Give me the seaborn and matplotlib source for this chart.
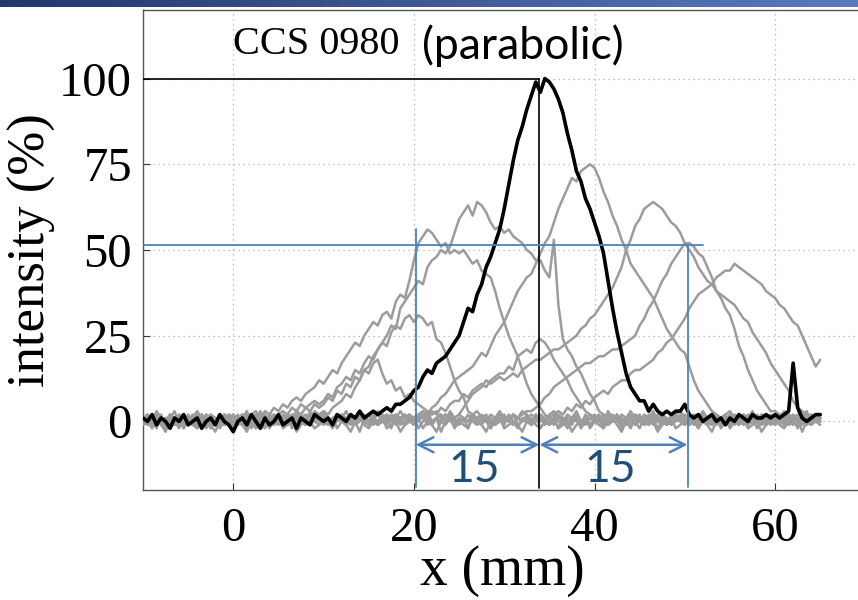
import numpy as np
import pandas as pd
import matplotlib
matplotlib.use("Agg")
import matplotlib.pyplot as plt
from matplotlib.colors import LinearSegmentedColormap
import seaborn as sns

# ---------------- data ----------------
x_mm = np.linspace(-10, 65, 151)   # sampling grid (0.5 mm)

black = [
 1, 0, 2, -1, 1, 0, -2, 1, 0, 2,
 -1, 0, 1, -2, 0, 1, -1, 2, 0, -1,
 -3, 0, 1, -1, 2, 0, -2, 1, -1, 0,
 2, -1, 0, 1, -2, 1, 0, -1, 2, 1,
 0, 1, -1, 2, 1, 0, 2, 1, 3, 1,
 2, 3, 2, 3, 4, 3, 5, 5, 6, 7,
 9, 10, 13, 15, 14, 17, 18, 19, 21, 23,
 25, 29, 33, 32, 37, 40, 45, 48, 52, 56,
 62, 69, 76, 82, 86, 91, 95, 99, 96, 100,
 99, 97, 94, 90, 84, 79, 73, 70, 65, 62,
 58, 54, 49, 41, 33, 26, 20, 14, 10, 8,
 6, 6, 3, 5, 3, 2, 3, 2, 3, 3,
 5, 2, 1, 2, 0, 1, 2, 0, 1, -1,
 1, 0, 2, 1, 0, 2, 1, 1, 2, 1,
 2, 1, 2, 3, 17, 4, 1, 0, 1, 2,
 2]

base1 = [
 0, 2, -1, 1, 0, -2, 1, 3, -1, 0,
 1, -1, 2, 0, -2, 1, 0, 2, -1, 1,
 0, -1, 1, 2, -2, 0, 3, -1, 1, 0,
 -1, 2, 1, -2, 0, 1, -1, 3, 0, -1,
 2, 0, -2, 1, 1, -1, 2, 0, -3, 1,
 0, 2, -1, 0, 1, -2, 2, 1, -1, 0,
 1, -2, 0, 2, -1, 1, -3, 0, 2, -1,
 0, 1, -2, 2, 0, -1, 1, -2, 0, 1,
 -1, 2, 0, -2, 1, 0, -1, 2, -2, 0,
 1, -1, 2, 0, -2, 1, 0, -1, 2, -1,
 0, 1, -2, 1, 0, 2, -1, 0, -2, 1,
 2, -1, 0, 1, -2, 0, 1, -1, 2, 0,
 -1, 1, 0, -2, 2, 0, -1, 1, -2, 0,
 1, -1, 2, 0, -1, 1, -2, 0, 1, -1,
 0, 2, -1, 0, 1, -2, 1, 0, -1, 1,
 0]

base2 = [
 1, 2, 0, 3, 1, 0, 2, 1, -1, 2,
 0, 1, 3, 1, -1, 2, 1, 0, 2, 1,
 2, 0, 1, 3, 0, 1, 2, -1, 1, 2,
 1, 0, 2, 1, 3, 0, 1, 2, 0, 1,
 3, 1, 0, 2, 1, 3, 0, 1, 2, 1,
 2, 0, 3, 1, 2, 0, 1, 3, 1, 2,
 0, 2, 1, 3, 0, 1, 2, 0, 3, 1,
 2, 1, 0, 2, 3, 1, 0, 2, 1, 3,
 1, 0, 2, 1, 3, 2, 0, 1, 2, 0,
 2, 3, 1, 0, 2, 1, 3, 0, 1, 2,
 1, 2, 0, 3, 1, 2, 0, 1, 3, 1,
 0, 2, 1, 3, 0, 2, 1, 0, 2, 3,
 1, 0, 2, 1, 3, 1, 0, 2, 1, 2,
 3, 1, 0, 2, 1, 3, 0, 1, 2, 0,
 2, 1, 3, 0, 1, 2, 1, 3, 0, 2,
 1]

base3 = [
 -1, 0, -2, 1, -1, -3, 0, -1, 1, -2,
 0, -1, -2, 0, 1, -1, -3, 0, -1, 1,
 -2, 0, -1, -3, 0, 1, -1, -2, 0, -1,
 1, -2, -1, 0, -3, -1, 1, 0, -2, -1,
 0, -1, 1, -2, 0, -1, -3, 0, 1, -1,
 -2, 0, -1, 1, -2, -1, 0, -3, -1, 0,
 -1, 1, -2, 0, -1, -3, 0, -1, 1, -2,
 0, -1, -2, 1, 0, -1, -3, 0, -1, 1,
 -2, -1, 0, -1, -3, 0, 1, -1, -2, 0,
 -1, 1, -2, -1, 0, -3, -1, 0, 1, -2,
 0, -1, -2, 0, 1, -1, -3, 0, -1, 0,
 -2, 1, -1, 0, -3, -1, 0, 1, -2, -1,
 0, -1, 1, -2, 0, -1, -3, 0, -1, 1,
 -2, 0, -1, 1, -2, -1, 0, -3, -1, 0,
 1, -1, -2, 0, -1, 1, -3, 0, -1, 0,
 -1]

pos_a = [
 0, 1, -1, 2, 0, -1, 1, 0, -2, 1,
 0, 2, -1, 0, 1, -1, 0, 2, -1, 0,
 1, -1, 0, 2, 1, -2, 0, 1, -1, 2,
 0, 1, 2, 1, 3, 2, 4, 3, 5, 4,
 5, 7, 6, 9, 8, 11, 10, 13, 12, 15,
 14, 17, 18, 14, 11, 12, 9, 10, 7, 8,
 6, 5, 4, 3, 2, 3, 1, 2, 0, 1,
 -1, 1, 0, 2, -1, 1, 0, -2, 1, 0,
 2, 0, -1, 1, 0, 2, -1, 0, 1, -1,
 0, 1, -2, 1, 0, -1, 2, 0, 1, -1,
 1, 0, 2, -1, 0, 1, -2, 0, 1, 2,
 0, -1, 1, 0, 2, 1, -1, 0, 1, 0,
 -1, 1, 0, 2, 0, -1, 1, 0, -1, 1,
 0, 2, 1, -1, 0, 1, 0, 2, -1, 0,
 1, 0, -1, 1, 2, 0, 1, -1, 0, 1,
 0]

pos_b = [
 1, -1, 0, 2, 0, 1, -2, 0, 1, -1,
 2, 0, -1, 1, 0, -2, 1, 0, 2, -1,
 0, 1, -1, 0, 2, 1, 0, -1, 2, 1,
 2, 3, 2, 4, 3, 5, 4, 5, 6, 5,
 6, 8, 7, 10, 11, 13, 12, 15, 14, 17,
 19, 18, 21, 23, 22, 26, 28, 27, 30, 31,
 29, 31, 30, 28, 29, 24, 23, 20, 16, 12,
 9, 7, 3, 2, 1, 2, 0, 1, -1, 0,
 1, 0, 2, -1, 0, 1, -1, 2, 0, 1,
 -1, 0, 2, 1, -1, 0, 1, -2, 0, 1,
 2, 0, -1, 1, 0, 2, -1, 0, 1, -1,
 0, 1, -1, 2, 0, -1, 1, 0, 2, 0,
 1, -1, 0, 2, 1, 0, -1, 1, 0, 2,
 -1, 0, 1, 0, 2, -1, 1, 0, -1, 1,
 0, 2, 0, -1, 1, 0, 2, -1, 0, 1,
 0]

pos_1 = [
 -1, 1, 0, -2, 1, 0, 2, -1, 0, 1,
 0, -1, 2, 0, 1, -2, 0, 1, -1, 2,
 1, 0, 2, 1, 2, 3, 1, 3, 2, 4,
 3, 5, 4, 6, 7, 6, 8, 9, 10, 12,
 11, 13, 15, 14, 17, 19, 21, 23, 22, 25,
 27, 29, 28, 31, 32, 30, 35, 37, 36, 41,
 47, 52, 54, 56, 55, 53, 51, 52, 49, 50,
 49, 50, 48, 46, 47, 44, 43, 42, 38, 33,
 29, 25, 22, 19, 15, 11, 8, 6, 4, 2,
 1, 2, 0, -1, 1, 0, 2, 0, -1, 1,
 0, 1, -1, 2, 0, 1, -1, 0, 2, -1,
 1, 0, 2, -1, 1, 0, -1, 2, 0, 1,
 0, -1, 1, 0, 2, -1, 0, 1, -1, 0,
 2, 0, -1, 1, 0, 2, 1, -1, 0, 1,
 -1, 0, 1, 2, 0, -1, 1, 0, 2, 0,
 1]

pos_2 = [
 0, 2, -1, 1, 0, -1, 2, 0, 1, -2,
 1, 0, -1, 2, 0, 1, -1, 0, 2, 1,
 -1, 0, 1, -2, 0, 2, 1, -1, 0, 1,
 0, 1, -1, 2, 0, 1, 2, 1, 3, 2,
 3, 2, 4, 5, 6, 8, 7, 10, 12, 15,
 16, 19, 21, 23, 25, 28, 27, 33, 35, 37,
 39, 41, 40, 45, 47, 48, 50, 49, 51, 55,
 59, 61, 63, 60, 64, 63, 61, 58, 56, 57,
 55, 56, 54, 53, 52, 50, 49, 47, 47, 44,
 42, 53, 34, 24, 21, 19, 16, 14, 11, 8,
 6, 3, 2, 1, 2, 0, 1, -1, 0, 2,
 1, 0, -1, 1, 0, 2, 0, -1, 1, 0,
 2, 1, 0, -1, 1, 0, 2, 0, 1, -1,
 0, 1, 2, 0, -1, 1, 0, 2, 1, 0,
 -1, 1, 0, 2, 1, 0, -1, 1, 0, 2,
 0]

pos_3 = [
 1, 0, -1, 2, 0, 1, -2, 0, 1, 0,
 -1, 1, 0, 2, -1, 0, 1, -1, 0, 2,
 0, -1, 1, 0, 2, -1, 0, 1, -2, 0,
 1, 0, 2, -1, 0, 1, -1, 2, 0, 1,
 -1, 0, 1, 2, 0, -1, 1, 0, 2, 1,
 0, 1, -1, 0, 2, 1, 0, 1, 2, 0,
 1, 0, 2, 1, 3, 2, 4, 3, 5, 6,
 6, 8, 7, 9, 10, 11, 10, 12, 13, 14,
 14, 16, 15, 19, 20, 21, 20, 23, 24, 23,
 21, 18, 16, 14, 12, 9, 7, 5, 3, 2,
 1, 0, 2, -1, 1, 0, 2, 1, -1, 0,
 1, -1, 0, 2, 1, 0, -1, 1, 0, 2,
 0, 1, -1, 0, 2, 1, 0, -1, 1, 0,
 2, 0, 1, -1, 0, 1, 2, 0, -1, 1,
 0, 1, 0, 2, -1, 1, 0, 1, 2, 0,
 1]

pos_4 = [
 0, -1, 1, 0, 2, -1, 0, 1, -1, 2,
 0, 1, -2, 0, 1, 2, -1, 0, 1, -1,
 2, 0, -1, 1, 0, -2, 1, 2, 0, -1,
 1, 0, 2, -1, 1, 0, -1, 2, 0, 1,
 0, -1, 1, 0, 2, 1, -1, 0, 1, 2,
 0, 1, 2, 0, -1, 1, 2, 0, 1, 2,
 1, 2, 3, 2, 4, 5, 7, 8, 10, 12,
 13, 14, 15, 16, 18, 20, 19, 22, 25, 27,
 29, 32, 35, 38, 40, 42, 43, 46, 49, 52,
 54, 58, 62, 65, 68, 71, 70, 73, 74, 75,
 74, 71, 67, 64, 60, 57, 53, 50, 46, 44,
 42, 40, 38, 36, 33, 30, 27, 25, 23, 21,
 20, 16, 12, 9, 7, 5, 3, 2, 1, 2,
 0, 1, -1, 2, 0, 1, 0, -1, 1, 2,
 0, 1, 2, -1, 0, 1, 0, 2, 1, 0,
 1]

pos_5 = [
 1, 0, 2, -1, 0, 1, -1, 0, 2, 1,
 -1, 0, 1, 2, -1, 0, 1, -2, 0, 1,
 0, 2, -1, 1, 0, -1, 2, 0, 1, -1,
 2, 0, -1, 1, 0, 2, -1, 0, 1, 0,
 1, -1, 0, 2, 1, -1, 0, 1, 2, 0,
 -1, 1, 0, 2, 1, 0, -1, 1, 2, 0,
 1, 0, 2, 1, -1, 1, 2, 0, 1, 1,
 2, 4, 6, 8, 9, 10, 12, 11, 12, 13,
 12, 13, 14, 13, 15, 16, 17, 18, 18, 19,
 20, 21, 21, 22, 23, 24, 25, 27, 28, 30,
 31, 33, 35, 37, 39, 42, 45, 50, 53, 57,
 59, 62, 63, 64, 63, 62, 60, 58, 57, 55,
 52, 50, 48, 45, 43, 41, 40, 38, 37, 36,
 35, 34, 32, 30, 29, 26, 24, 22, 20, 17,
 15, 13, 11, 9, 6, 4, 3, 2, 1, 2,
 1]

pos_6 = [
 0, 1, -1, 2, 0, -1, 1, 0, 2, -1,
 1, 0, -1, 0, 2, 1, -1, 0, 1, 0,
 -1, 1, 2, 0, -1, 1, 0, 2, -1, 0,
 1, -1, 0, 2, 1, 0, -1, 1, 0, 2,
 0, 1, -1, 0, 2, 0, 1, -1, 0, 1,
 2, 0, -1, 1, 0, 2, 1, -1, 0, 1,
 0, 2, 1, 0, -1, 1, 0, 2, 1, -1,
 1, 0, 2, 0, -1, 1, 2, 0, 1, 0,
 0, 1, 2, 1, 2, 3, 3, 4, 5, 7,
 8, 10, 11, 12, 13, 14, 15, 16, 17, 17,
 18, 19, 19, 20, 21, 21, 22, 23, 24, 25,
 28, 30, 33, 35, 38, 41, 43, 46, 48, 50,
 52, 52, 51, 49, 48, 45, 42, 38, 36, 33,
 31, 27, 22, 19, 15, 12, 9, 7, 5, 3,
 3, 2, 1, 2, 0, 1, 2, 0, 1, 2,
 1]

pos_7 = [
 -1, 0, 1, 2, -1, 0, 1, -1, 0, 2,
 0, -1, 1, 0, 2, -1, 0, 1, 0, -1,
 1, 0, -1, 2, 0, 1, -1, 0, 2, 1,
 0, -1, 1, 0, 2, 0, -1, 1, 0, 2,
 1, 0, -1, 2, 0, 1, 0, -1, 1, 0,
 2, -1, 0, 1, 0, 2, 1, 0, -1, 1,
 0, 1, 2, -1, 0, 1, 0, 2, 1, 0,
 -1, 1, 0, 2, 1, 0, 1, -1, 0, 2,
 1, 0, 2, 1, 0, 1, 2, 1, 2, 1,
 1, 2, 3, 2, 4, 3, 5, 4, 6, 5,
 7, 8, 9, 8, 10, 11, 12, 12, 14, 15,
 15, 16, 17, 18, 20, 21, 23, 24, 26, 28,
 30, 33, 35, 37, 38, 39, 40, 42, 43, 44,
 44, 46, 45, 44, 43, 42, 41, 40, 38, 37,
 36, 34, 33, 31, 29, 28, 25, 22, 19, 16,
 18]

gray_curves = {"base1": base1, "base2": base2, "base3": base3,
               "pos_a": pos_a, "pos_b": pos_b, "pos_1": pos_1, "pos_2": pos_2,
               "pos_3": pos_3, "pos_4": pos_4, "pos_5": pos_5, "pos_6": pos_6,
               "pos_7": pos_7}

x_ticks = [0, 20, 40, 60]
y_ticks = [0, 25, 50, 75, 100]

# annotation values
peak_x = 33.9          # position of the main peak (mm)
peak_level = 100
half_level = 51.5
half_left_x = 20.2
half_right_x = 50.3
half_line_end = 52
arrow_y = -6.8
spacing_labels = ["15", "15"]
spacing_label_x = [26.7, 41.7]
spacing_label_y = -14
title_main = "CCS 0980"
title_note = "(parabolic)"

# ---------------- plotting ----------------
sns.set_theme(style="ticks")
plt.rcParams["font.family"] = ["Liberation Serif", "DejaVu Serif"]
plt.rcParams["axes.unicode_minus"] = False

fig = plt.figure(figsize=(8.58, 6.0), dpi=100)
ax_w_px = 760
ax = fig.add_axes([143 / 858, 110 / 600, ax_w_px / 858, 480 / 600])

rows = []
for name, vals in gray_curves.items():
    rows.append(pd.DataFrame({"x": x_mm, "y": vals, "curve": name}))
df_gray = pd.concat(rows, ignore_index=True)
df_black = pd.DataFrame({"x": x_mm, "y": black})

blue = "#4F81BD"
sns.lineplot(data=df_gray, x="x", y="y", units="curve", estimator=None,
             color="#9c9c9c", lw=1.8, ax=ax, zorder=3)
sns.lineplot(data=df_black, x="x", y="y", color="black", lw=2.6, ax=ax,
             zorder=4)

# reference lines
ax.plot([-10, peak_x], [peak_level, peak_level], color="black", lw=1.2, zorder=5)
ax.plot([peak_x, peak_x], [-19.5, peak_level], color="black", lw=1.2, zorder=5)
ax.plot([-10, half_line_end], [half_level, half_level], color=blue, lw=1.3, zorder=6)
ax.plot([half_left_x, half_left_x], [-19, 56], color=blue, lw=1.3, zorder=6)
ax.plot([half_right_x, half_right_x], [-19, half_level], color=blue, lw=1.3, zorder=6)

arrowprops = dict(arrowstyle="<->,head_length=0.9,head_width=0.45", color=blue,
                  lw=1.8, shrinkA=0, shrinkB=0)
ax.annotate("", xy=(half_left_x, arrow_y), xytext=(peak_x, arrow_y),
            arrowprops=arrowprops, zorder=6)
ax.annotate("", xy=(peak_x, arrow_y), xytext=(half_right_x, arrow_y),
            arrowprops=arrowprops, zorder=6)
for lab, lx in zip(spacing_labels, spacing_label_x):
    ax.text(lx, spacing_label_y, lab, ha="center", va="center", fontsize=32,
            color="#1F4E79", family=["Lato", "DejaVu Sans"], zorder=7)

ax.text(0.0, 110, title_main, ha="left", va="center", fontsize=29, color="black")
ax.text(20.9, 109.5, title_note, ha="left", va="center", fontsize=32,
        color="black", family=["Lato", "DejaVu Sans"])

# keep 9.03 px per mm while the axes run past the right edge of the figure
ax.set_xlim(-10, -10 + ax_w_px / 9.03)
ax.set_ylim(-20, 120)
ax.set_xticks(x_ticks)
ax.set_yticks(y_ticks)
ax.grid(True, ls=(0, (1, 3)), color="#b0b0b0", lw=0.9)
ax.set_axisbelow(True)
ax.tick_params(direction="in", length=5, width=0.8, color="#333333",
               labelcolor="black", labelsize=35, pad=8)
ax.tick_params(axis="x", pad=12)
for s in ["left", "bottom", "top"]:
    ax.spines[s].set_color("#555555")
    ax.spines[s].set_linewidth(1.0)
ax.spines["right"].set_visible(False)
ax.set_xlabel("x (mm)", fontsize=40, labelpad=-4, color="black")
ax.xaxis.set_label_coords((502 - 143) / ax_w_px, -0.115)
ax.set_ylabel("intensity (%)", fontsize=38, labelpad=2, color="black")

# slide header bar
bar = fig.add_axes([0, 1 - 7 / 600, 1, 7 / 600])
cmap = LinearSegmentedColormap.from_list("hdr", ["#22386a", "#5a7ac0"])
bar.imshow(np.linspace(0, 1, 256)[None, :], aspect="auto", cmap=cmap)
bar.set_axis_off()

fig.savefig("out.png", dpi=100)
